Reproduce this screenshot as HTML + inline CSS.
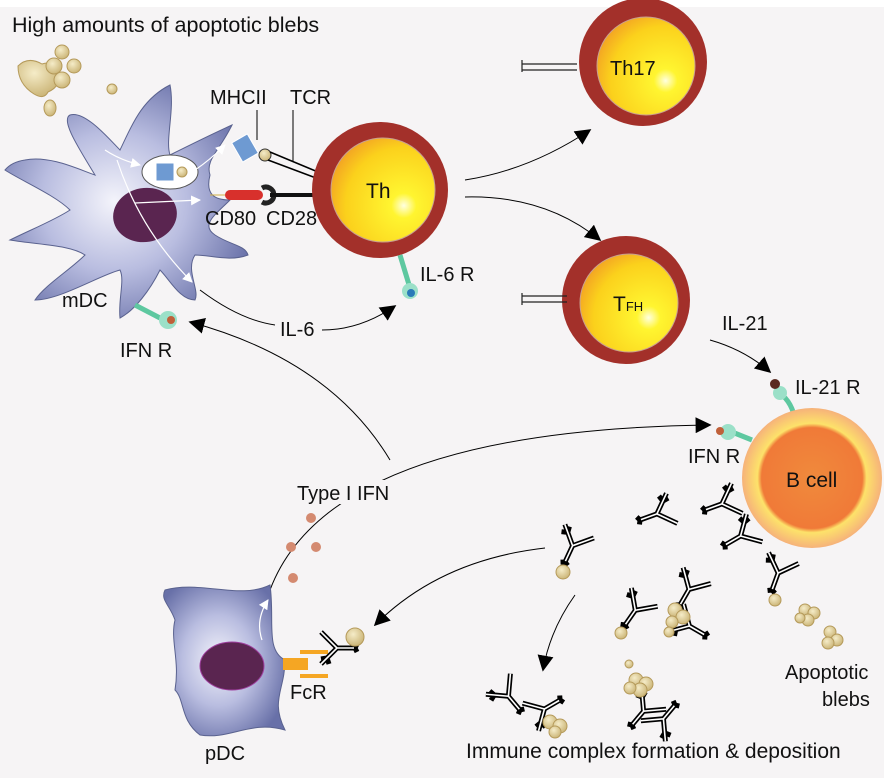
<!DOCTYPE html>
<html><head><meta charset="utf-8"><style>
html,body{margin:0;padding:0;background:#fff}
svg{display:block}
text{font-family:"Liberation Sans",sans-serif;fill:#111}
</style></head><body>
<svg width="884" height="778" viewBox="0 0 884 778" xmlns="http://www.w3.org/2000/svg">
<defs>
<radialGradient id="dc" cx="0.45" cy="0.5" r="0.6"><stop offset="0" stop-color="#f4f4fb"/><stop offset="0.5" stop-color="#b9bde0"/><stop offset="1" stop-color="#6870a8"/></radialGradient>
<radialGradient id="yel" cx="0.7" cy="0.65" r="0.8"><stop offset="0" stop-color="#ffffe0"/><stop offset="0.15" stop-color="#fff530"/><stop offset="0.7" stop-color="#fbd11c"/><stop offset="1" stop-color="#f19a25"/></radialGradient>
<radialGradient id="bc" cx="0.5" cy="0.5" r="0.5"><stop offset="0" stop-color="#f08a3c"/><stop offset="0.72" stop-color="#f07a38"/><stop offset="0.78" stop-color="#fde26a"/><stop offset="1" stop-color="#f6b27a"/></radialGradient>
<radialGradient id="bb" cx="0.4" cy="0.35" r="0.7"><stop offset="0" stop-color="#f5ecc8"/><stop offset="1" stop-color="#c9b273"/></radialGradient>
<marker id="ar" viewBox="0 0 10 10" refX="9" refY="5" markerWidth="16" markerHeight="16" markerUnits="userSpaceOnUse" orient="auto"><path d="M0,0L10,5L0,10z" fill="#000"/></marker>
<marker id="arw" viewBox="0 0 10 10" refX="9" refY="5" markerWidth="10" markerHeight="10" markerUnits="userSpaceOnUse" orient="auto"><path d="M0,0L10,5L0,10z" fill="#fff"/></marker>
<g id="ab">
<path d="M0,0 L0,-18 M0,-18 L-16,-34 M0,-18 L16,-34 M-10,-28 l-6,2 M-10,-28 l-1,-6 M0,0 l-4,2 M0,0 l4,2" stroke="#000" stroke-width="5" fill="none"/>
<path d="M0,-1 L0,-18 L-16,-34 M0,-18 L16,-34" stroke="#fff" stroke-width="1.6" fill="none"/>
</g>
</defs>
<rect x="0" y="0" width="884" height="778" fill="#f6f4f5"/>
<rect x="0" y="0" width="884" height="7" fill="#fff"/>
<text x="12" y="32" font-size="21.5">High amounts of apoptotic blebs</text>
<g fill="url(#bb)" stroke="#b59a5a" stroke-width="1">
<path d="M18,66 q10,-10 24,-2 q12,-4 16,8 q4,14 -10,20 q-4,8 -14,2 q-16,-10 -16,-28z"/>
<circle cx="54" cy="66" r="8"/><circle cx="62" cy="52" r="7"/><circle cx="74" cy="66" r="7"/><circle cx="62" cy="80" r="8"/>
<circle cx="112" cy="89" r="5"/><ellipse cx="50" cy="108" rx="6" ry="8"/><ellipse cx="88" cy="137" rx="11" ry="8"/>
</g>
<path d="M25,160 C50,155 80,170 95,175 C80,150 60,120 70,115 C85,110 110,140 120,150 C130,130 140,100 170,85 C175,110 165,140 170,155 C190,145 210,135 232,125 C220,150 205,160 210,175 C205,195 215,200 230,200 C215,215 200,225 215,235 C230,245 245,245 248,255 C230,262 210,255 195,255 C185,270 200,290 195,300 C180,300 170,280 160,270 C150,290 135,310 120,318 C118,300 125,280 120,270 C100,275 60,300 35,300 C45,285 70,270 85,255 C70,245 40,245 10,240 C30,230 55,220 70,210 C55,195 20,180 5,170 C10,164 18,161 25,160z" fill="url(#dc)" stroke="#5a628f" stroke-width="1"/>
<ellipse cx="145" cy="215" rx="32" ry="27" transform="rotate(-10 145 215)" fill="#5a2550"/>
<ellipse cx="170" cy="172" rx="28" ry="17" fill="#fff" stroke="#555" stroke-width="1"/>
<rect x="156" y="163" width="18" height="18" fill="#6e9ad2" stroke="#fff" stroke-width="1"/>
<circle cx="182" cy="172" r="5" fill="url(#bb)" stroke="#b59a5a"/>
<path d="M105,150 Q120,160 140,165" stroke="#fff" fill="none" stroke-width="1.2" marker-end="url(#arw)"/>
<path d="M195,170 Q210,160 225,145" stroke="#fff" fill="none" stroke-width="1.2" marker-end="url(#arw)"/>
<path d="M135,203 L200,200" stroke="#fff" fill="none" stroke-width="1.2" marker-end="url(#arw)"/>
<path d="M117,160 Q140,230 192,282" stroke="#fff" fill="none" stroke-width="1.2" marker-end="url(#arw)"/>
<rect x="236" y="137" width="18" height="22" transform="rotate(-30 245 148)" fill="#6e9ad2" stroke="#fff"/>
<circle cx="265" cy="155" r="6" fill="url(#bb)" stroke="#333"/>
<path d="M270,152 L318,172 M268,160 L316,178" stroke="#000" stroke-width="1.5"/>
<line x1="257" y1="110" x2="257" y2="140" stroke="#000"/>
<line x1="293" y1="110" x2="293" y2="162" stroke="#000"/>
<text x="210" y="104" font-size="20">MHCII</text><text x="290" y="104" font-size="20">TCR</text>
<line x1="210" y1="195" x2="226" y2="195" stroke="#d2b048" stroke-width="1"/>
<rect x="225" y="190" width="38" height="10" rx="5" fill="#d8302c"/>
<path d="M262,188 a8,8 0 1 1 0,14" stroke="#222" stroke-width="5" fill="none"/>
<line x1="270" y1="195" x2="315" y2="195" stroke="#111" stroke-width="4"/>
<text x="205" y="225" font-size="20">CD80</text><text x="266" y="225" font-size="20">CD28</text>
<circle cx="380" cy="190" r="68" fill="#a3302a"/>
<circle cx="383" cy="190" r="52" fill="url(#yel)" stroke="#c8a090"/>
<text x="366" y="198" font-size="21">Th</text>
<path d="M400,255 L410,288" stroke="#5ec8a0" stroke-width="5"/>
<circle cx="410" cy="291" r="8" fill="#9be0c8"/><circle cx="411" cy="293" r="4" fill="#2a7ab8"/>
<text x="420" y="281" font-size="20">IL-6 R</text>
<path d="M135,305 L160,318" stroke="#5ec8a0" stroke-width="5"/>
<circle cx="168" cy="320" r="9" fill="#9be0c8"/><circle cx="171" cy="320" r="4" fill="#c0603a"/>
<text x="62" y="307" font-size="20">mDC</text>
<text x="120" y="357" font-size="20">IFN R</text>
<path d="M200,290 Q240,320 275,325" stroke="#000" fill="none"/>
<text x="280" y="336" font-size="20">IL-6</text>
<path d="M322,330 Q360,330 395,306" stroke="#000" fill="none" marker-end="url(#ar)"/>
<circle cx="643" cy="62" r="64" fill="#a3302a"/>
<circle cx="646" cy="66" r="49" fill="url(#yel)" stroke="#c8a090"/>
<text x="610" y="75" font-size="20">Th17</text>
<path d="M522,60 v12 M522,64 h55 M522,70 h55" stroke="#222" stroke-width="1.2" fill="none"/>
<circle cx="626" cy="300" r="64" fill="#a3302a"/>
<circle cx="629" cy="303" r="49" fill="url(#yel)" stroke="#c8a090"/>
<text x="613" y="311" font-size="21">T<tspan font-size="13">FH</tspan></text>
<path d="M522,293 v12 M522,296 h45 M522,302 h45" stroke="#222" stroke-width="1.2" fill="none"/>
<path d="M465,180 Q530,170 590,130" stroke="#000" fill="none" marker-end="url(#ar)"/>
<path d="M465,197 Q545,195 600,240" stroke="#000" fill="none" marker-end="url(#ar)"/>
<text x="722" y="330" font-size="20">IL-21</text>
<path d="M710,340 Q745,350 770,372" stroke="#000" fill="none" marker-end="url(#ar)"/>
<path d="M777,392 Q790,398 795,418" stroke="#5ec8a0" stroke-width="5" fill="none"/>
<circle cx="780" cy="393" r="7" fill="#9be0c8"/><circle cx="775" cy="384" r="5" fill="#5a2a20"/>
<text x="795" y="394" font-size="20">IL-21 R</text>
<circle cx="812" cy="478" r="70" fill="url(#bc)"/>
<text x="786" y="487" font-size="21">B cell</text>
<path d="M732,432 L752,440" stroke="#5ec8a0" stroke-width="5"/>
<circle cx="728" cy="432" r="8" fill="#9be0c8"/><circle cx="720" cy="431" r="4" fill="#c0603a"/>
<text x="688" y="463" font-size="20">IFN R</text>
<path d="M270,590 Q330,430 710,425" stroke="#000" fill="none" marker-end="url(#ar)"/>
<path d="M390,460 Q330,360 190,322" stroke="#000" fill="none" marker-end="url(#ar)"/>
<rect x="294" y="480" width="110" height="24" fill="#f6f4f5"/>
<text x="297" y="500" font-size="20">Type I IFN</text>
<g fill="#d48a70"><circle cx="311" cy="518" r="5"/><circle cx="291" cy="547" r="5"/><circle cx="316" cy="547" r="5"/><circle cx="293" cy="578" r="5"/></g>
<path d="M165,590 C200,580 240,600 270,585 C275,620 265,650 285,660 C285,690 270,700 285,730 C250,720 230,740 200,735 C180,720 185,700 175,690 C180,660 170,640 175,620 C170,605 160,600 165,590z" fill="url(#dc)" stroke="#5a628f"/>
<ellipse cx="232" cy="666" rx="32" ry="24" fill="#5a2550" stroke="#a040a0"/>
<path d="M262,640 Q255,620 268,600" stroke="#fff" fill="none" stroke-width="1.2" marker-end="url(#arw)"/>
<path d="M283,658 h25 v12 h-25z" fill="#f5a623"/>
<path d="M300,652 h28 M300,676 h28" stroke="#f5a623" stroke-width="4"/>
<text x="290" y="699" font-size="20">FcR</text>
<text x="205" y="760" font-size="20">pDC</text>
<g transform="translate(355,648) rotate(-90)"><use href="#ab"/></g>
<circle cx="355" cy="637" r="9" fill="url(#bb)" stroke="#b59a5a"/>
<path d="M545,548 Q440,560 375,625" stroke="#000" fill="none" marker-end="url(#ar)"/>
<path d="M575,595 Q550,630 543,670" stroke="#000" fill="none" marker-end="url(#ar)"/>
<g transform="translate(565,562) rotate(25)"><use href="#ab"/></g>
<g transform="translate(640,520) rotate(70)"><use href="#ab"/></g>
<g transform="translate(705,510) rotate(70)"><use href="#ab"/></g>
<g transform="translate(725,545) rotate(60)"><use href="#ab"/></g>
<g transform="translate(772,590) rotate(20)"><use href="#ab"/></g>
<g transform="translate(625,625) rotate(35)"><use href="#ab"/></g>
<g transform="translate(680,605) rotate(30)"><use href="#ab"/></g>
<g transform="translate(705,635) rotate(-60)"><use href="#ab"/></g>
<g transform="translate(520,710) rotate(-40)"><use href="#ab"/></g>
<g transform="translate(560,700) rotate(-120)"><use href="#ab"/></g>
<g transform="translate(632,725) rotate(40)"><use href="#ab"/></g>
<g transform="translate(675,705) rotate(-140)"><use href="#ab"/></g>
<g fill="url(#bb)" stroke="#b59a5a" stroke-width="1">
<circle cx="563" cy="572" r="7"/><circle cx="775" cy="600" r="6"/><circle cx="621" cy="633" r="6"/>
<circle cx="675" cy="610" r="7"/><circle cx="683" cy="617" r="7"/><circle cx="672" cy="622" r="6"/><circle cx="669" cy="632" r="5"/>
<circle cx="636" cy="680" r="7"/><circle cx="646" cy="684" r="7"/><circle cx="640" cy="690" r="7"/><circle cx="630" cy="688" r="6"/><circle cx="629" cy="664" r="4"/>
<circle cx="550" cy="722" r="7"/><circle cx="560" cy="726" r="7"/><circle cx="555" cy="732" r="6"/>
<circle cx="805" cy="610" r="6"/><circle cx="814" cy="613" r="6"/><circle cx="808" cy="620" r="6"/><circle cx="800" cy="618" r="5"/>
<circle cx="830" cy="632" r="6"/><circle cx="837" cy="640" r="6"/><circle cx="828" cy="643" r="6"/>
</g>
<text x="785" y="679" font-size="20">Apoptotic</text>
<text x="822" y="706" font-size="20">blebs</text>
<text x="466" y="758" font-size="21">Immune complex formation &amp; deposition</text>
</svg>
</body></html>
